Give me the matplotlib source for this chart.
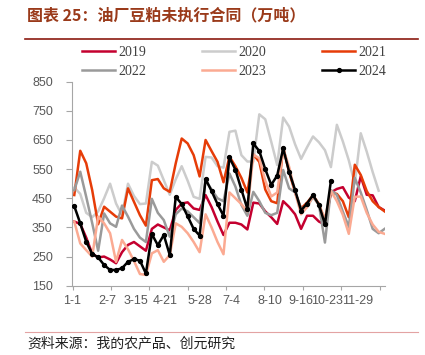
import matplotlib
matplotlib.use("Agg")
import matplotlib.pyplot as plt
from matplotlib.lines import Line2D

plt.rcParams['font.family'] = ['Liberation Sans', 'DejaVu Sans']

# weekly values, one list per year (万吨)
years = ["2019", "2020", "2021", "2022", "2023", "2024"]

v2019 = [370, 362, 315, 260, 247, 250, 240, 227, 265, 290, 300, 285, 270, 345, 360, 350, 340, 410,
         432, 436, 415, 410, 461, 420, 370, 324, 366, 366, 360, 343, 435, 432, 405, 385, 362, 440,
         420, 395, 345, 390, 390, 370, 360, 470, 482, 488, 452, 440, 525, 462, 460, 420, 408]
v2020 = [487, 465, 400, 385, 405, 450, 500, 432, 392, 500, 458, 430, 432, 575, 562, 512, 462, 515,
         560, 510, 455, 448, 592, 590, 560, 555, 678, 682, 598, 576, 576, 738, 721, 644, 564, 727,
         696, 635, 585, 625, 662, 642, 615, 557, 702, 645, 580, 500, 673, 610, 540, 476]
v2021 = [461, 613, 570, 478, 361, 421, 404, 387, 381, 484, 438, 392, 356, 512, 516, 484, 472, 570,
         655, 638, 598, 525, 650, 612, 575, 505, 593, 560, 520, 470, 600, 575, 480, 440, 433, 625,
         540, 470, 415, 435, 460, 430, 370, 470, 465, 440, 385, 565, 530, 475, 440, 420, 405]
v2022 = [478, 541, 455, 365, 270, 398, 364, 352, 425, 387, 345, 315, 300, 448, 400, 375, 318, 395,
         415, 405, 385, 365, 512, 480, 450, 440, 535, 490, 427, 390, 472, 440, 400, 392, 400, 547,
         484, 470, 415, 420, 455, 427, 298, 478, 461, 404, 352, 520, 470, 410, 345, 330, 345]
v2023 = [370, 295, 272, 250, 387, 364, 330, 232, 307, 275, 235, 190, 187, 261, 272, 232, 255, 364,
         352, 330, 300, 265, 395, 350, 300, 258, 470, 450, 430, 405, 600, 587, 510, 456, 470, 620,
         558, 470, 395, 420, 458, 427, 380, 475, 440, 393, 328, 455, 456, 400, 360, 335, 328]
v2024 = [423, 364, 301, 259, 247, 221, 204, 204, 210, 232, 241, 236, 192, 327, 289, 324, 255, 455,
         430, 388, 345, 322, 516, 475, 430, 390, 590, 548, 480, 414, 638, 612, 550, 496, 528, 621,
         541, 478, 408, 432, 461, 427, 361, 510]

series = [v2019, v2020, v2021, v2022, v2023, v2024]
colors = ["#C4002F", "#CCCCCC", "#E63C08", "#9A9A9A", "#FBAA92", "#000000"]

x_labels = ["1-1", "2-7", "3-15", "4-21", "5-28", "7-4", "8-10", "9-16", "10-23", "11-29"]
label_pos = [-0.34, 5.54, 10.4, 15.3, 21.0, 26.3, 32.7, 37.9, 42.3, 47.5]
tick_pos = [-0.285 + 6.43 * k for k in range(9)]

fig = plt.figure(figsize=(4.25, 3.55), dpi=100)
ax = fig.add_axes([0.170, 0.1952, 0.735, 0.5747])

handles = []
for name, vals, c in zip(years, series, colors):
    if name == "2024":
        h, = ax.plot(range(len(vals)), vals, color=c, lw=1.8, marker="o", ms=2.8, label=name, zorder=5)
    else:
        h, = ax.plot(range(len(vals)), vals, color=c, lw=1.8, label=name)
    handles.append(h)

ax.set_ylim(150, 850)
ax.set_yticks(range(150, 851, 100))
ax.set_xlim(-0.285, 52.0)
ax.set_xticks(tick_pos, labels=[])
ax.set_xticks(label_pos, labels=x_labels, minor=True)
ax.tick_params(axis="x", which="minor", length=0, pad=7)
ax.tick_params(axis="x", which="major", length=3, color="#A6A6A6", width=0.8)
ax.tick_params(axis="y", length=4, color="#A6A6A6", width=0.8, pad=10)
for lab in ax.get_xticklabels(minor=True) + ax.get_yticklabels():
    lab.set_fontsize(9)
    lab.set_color("#595959")
for s in ["top", "right"]:
    ax.spines[s].set_visible(False)
for s in ["left", "bottom"]:
    ax.spines[s].set_color("#A6A6A6")
    ax.spines[s].set_linewidth(0.8)

# legend: row-wise order for 3 columns
order = [0, 3, 1, 4, 2, 5]
leg = fig.legend([handles[i] for i in order], [years[i] for i in order],
                 loc="upper left", bbox_to_anchor=(0.192, 0.871), ncol=3, frameon=False,
                 prop={"family": "Liberation Serif", "size": 10}, handlelength=2.4,
                 handletextpad=0.25, columnspacing=4.0, labelspacing=0.42, borderpad=0,
                 borderaxespad=0)
for t in leg.get_texts():
    t.set_color("#404040")

# title and source
fig.text(0.064, 0.957, "图表 25：油厂豆粕未执行合同（万吨）", fontsize=11.5, fontweight="bold",
         color="#9A3A1A", family=["Noto Sans CJK SC", "DejaVu Sans"], va="center", ha="left")
fig.add_artist(Line2D([0.059, 0.984], [0.889, 0.889], color="#8B1A10", lw=1.2))
fig.add_artist(Line2D([0.059, 0.984], [0.066, 0.066], color="#E3A3A3", lw=0.8))
fig.text(0.064, 0.034, "资料来源：我的农产品、创元研究", fontsize=10, color="#202020",
         family=["Noto Sans CJK SC", "DejaVu Sans"], va="center", ha="left")

fig.savefig("out.png", dpi=100)
